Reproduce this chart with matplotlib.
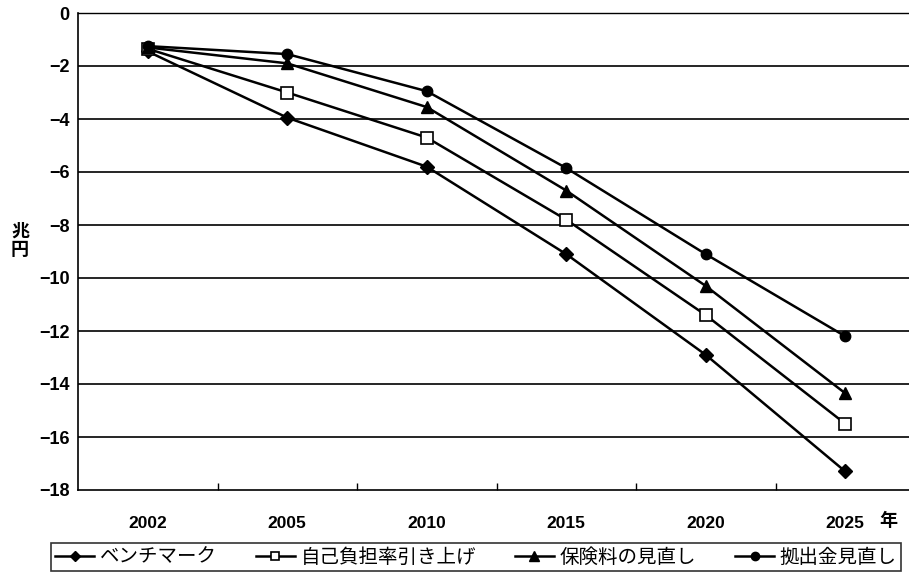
import matplotlib.pyplot as plt
import numpy as np

plt.rcParams['font.family'] = ['Liberation Sans', 'Noto Sans CJK JP', 'DejaVu Sans']

years = ['2002', '2005', '2010', '2015', '2020', '2025']
benchmark = [-1.45, -3.95, -5.8, -9.1, -12.9, -17.3]
self_burden = [-1.35, -3.0, -4.7, -7.8, -11.4, -15.5]
premium = [-1.3, -1.9, -3.55, -6.7, -10.3, -14.35]
contribution = [-1.25, -1.55, -2.95, -5.85, -9.1, -12.2]

series_names = ['ベンチマーク', '自己負担率引き上げ', '保険料の見直し', '拠出金見直し']

fig = plt.figure(figsize=(9.09, 5.82), dpi=100)
W, H = 909, 582
ax = fig.add_axes([78 / W, 1 - 490 / H, (915 - 78) / W, (490 - 13) / H])

x = np.arange(len(years))
lw = 1.8
l1, = ax.plot(x, benchmark, color='black', lw=lw, marker='D', ms=7,
              mfc='black', mec='black')
l2, = ax.plot(x, self_burden, color='black', lw=lw, marker='s', ms=8,
              mfc='white', mec='black', mew=1.2)
l3, = ax.plot(x, premium, color='black', lw=lw, marker='^', ms=8.5,
              mfc='black', mec='black')
l4, = ax.plot(x, contribution, color='black', lw=lw, marker='o', ms=7.5,
              mfc='black', mec='black')

ax.set_xlim(-0.5, len(years) - 0.5)
ax.set_ylim(-18, 0)
yt = np.arange(-18, 1, 2)
ax.set_yticks(yt)
ax.set_yticklabels([str(v).replace('-', '\u2212') for v in yt], fontsize=13,
                   fontweight='bold')
ax.set_xticks(x)
ax.set_xticklabels(years, fontsize=12.5, fontweight='bold')
ax.set_xticks(np.arange(0.5, len(years) - 1, 1), minor=True)
ax.tick_params(axis='x', which='major', length=0, pad=19)
ax.tick_params(axis='x', which='minor', direction='in', length=5, width=1)
ax.tick_params(axis='y', length=0, pad=6)

for v in range(-16, 0, 2):
    ax.axhline(v, color='black', lw=1.2, zorder=0)

ax.spines['top'].set_linestyle((0, (1, 1)))
ax.spines['top'].set_linewidth(1.0)
ax.spines['right'].set_visible(False)
ax.spines['left'].set_linewidth(1.2)
ax.spines['bottom'].set_linewidth(1.2)

fig.text(20 / W, 1 - 240 / H, '兆\n円', fontsize=13, fontweight='bold',
         ha='center', va='center', linespacing=0.95,
         family=['Noto Sans CJK JP'])
fig.text(888 / W, 1 - 521 / H, '年', fontsize=13, fontweight='bold',
         ha='center', va='center', family=['Noto Sans CJK JP'])

leg = fig.legend([l1, l2, l3, l4], series_names, loc='center',
                 bbox_to_anchor=(476 / W, 1 - 557 / H), ncol=4,
                 frameon=True, fancybox=False, edgecolor='black',
                 prop={'family': ['Noto Sans CJK JP'], 'size': 14},
                 handlelength=2.0, handletextpad=0.3, columnspacing=2.0,
                 borderpad=0.2, markerscale=0.8)
leg.get_frame().set_linewidth(1.2)

fig.savefig('out.png', dpi=100)
